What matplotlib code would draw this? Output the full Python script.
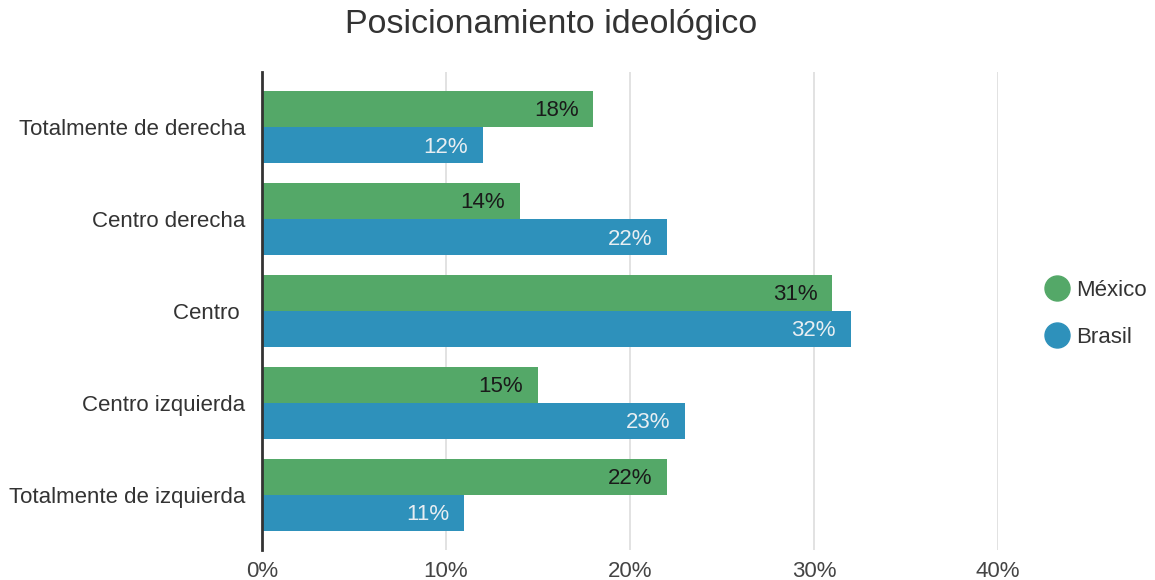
import matplotlib
matplotlib.use("Agg")
import matplotlib.pyplot as plt
import numpy as np
from matplotlib.lines import Line2D

categories = ["Totalmente de derecha", "Centro derecha", "Centro ", "Centro izquierda", "Totalmente de izquierda"]
mexico = [18, 14, 31, 15, 22]
brasil = [12, 22, 32, 23, 11]
xticks = [0, 10, 20, 30, 40]
xticklabels = ["0%", "10%", "20%", "30%", "40%"]

green = "#54a868"
blue = "#2e91bb"
plt.rcParams['font.family'] = ['Liberation Sans', 'DejaVu Sans']

fig = plt.figure(figsize=(11.55, 5.8), dpi=100)
ax = fig.add_axes([262/1155, 1-550/580, (998-262)/1155, (550-72)/580])

y = np.arange(len(categories))
h = 0.395
ax.barh(y - h/2, mexico, height=h, color=green, zorder=3)
ax.barh(y + h/2, brasil, height=h, color=blue, zorder=3)

fs = 16
for i, v in enumerate(mexico):
    ax.text(v - 0.8, y[i] - h/2 + 0.02, f"{v}%", ha="right", va="center", fontsize=fs, color="#1a1a1a", zorder=4)
for i, v in enumerate(brasil):
    ax.text(v - 0.8, y[i] + h/2 + 0.02, f"{v}%", ha="right", va="center", fontsize=fs, color="#e8eef2", zorder=4)

ax.set_xlim(0, 40)
ax.set_ylim(4.5 + 0.1, -0.5 - 0.1)
ax.set_xticks(xticks)
ax.set_xticklabels(xticklabels, fontsize=fs, color="#444444")
ax.set_yticks(y)
ax.set_yticklabels(categories, fontsize=fs, color="#333333")
ax.tick_params(length=0)
ax.tick_params(axis="y", pad=12)
ax.tick_params(axis="x", pad=8)
ax.grid(axis="x", color="#dddddd", linewidth=1.2, zorder=0)
for s in ["top", "right", "bottom"]:
    ax.spines[s].set_visible(False)
ax.spines["left"].set_color("#333333")
ax.spines["left"].set_linewidth(2)
ax.spines["left"].set_zorder(5)

fig.text(551/1155, 1-24/580, "Posicionamiento ideológico", ha="center", va="center", fontsize=24.5, color="#333333")

handles = [Line2D([], [], marker="o", linestyle="", markersize=18, color=green),
           Line2D([], [], marker="o", linestyle="", markersize=18, color=blue)]
fig.legend(handles, ["México", "Brasil"], loc="center left", bbox_to_anchor=(1024/1155, 1-314/580),
           frameon=False, fontsize=fs, labelspacing=1.15, handletextpad=0.25, handlelength=1.2,
           labelcolor="#333333")

fig.savefig("out.png", dpi=100)
